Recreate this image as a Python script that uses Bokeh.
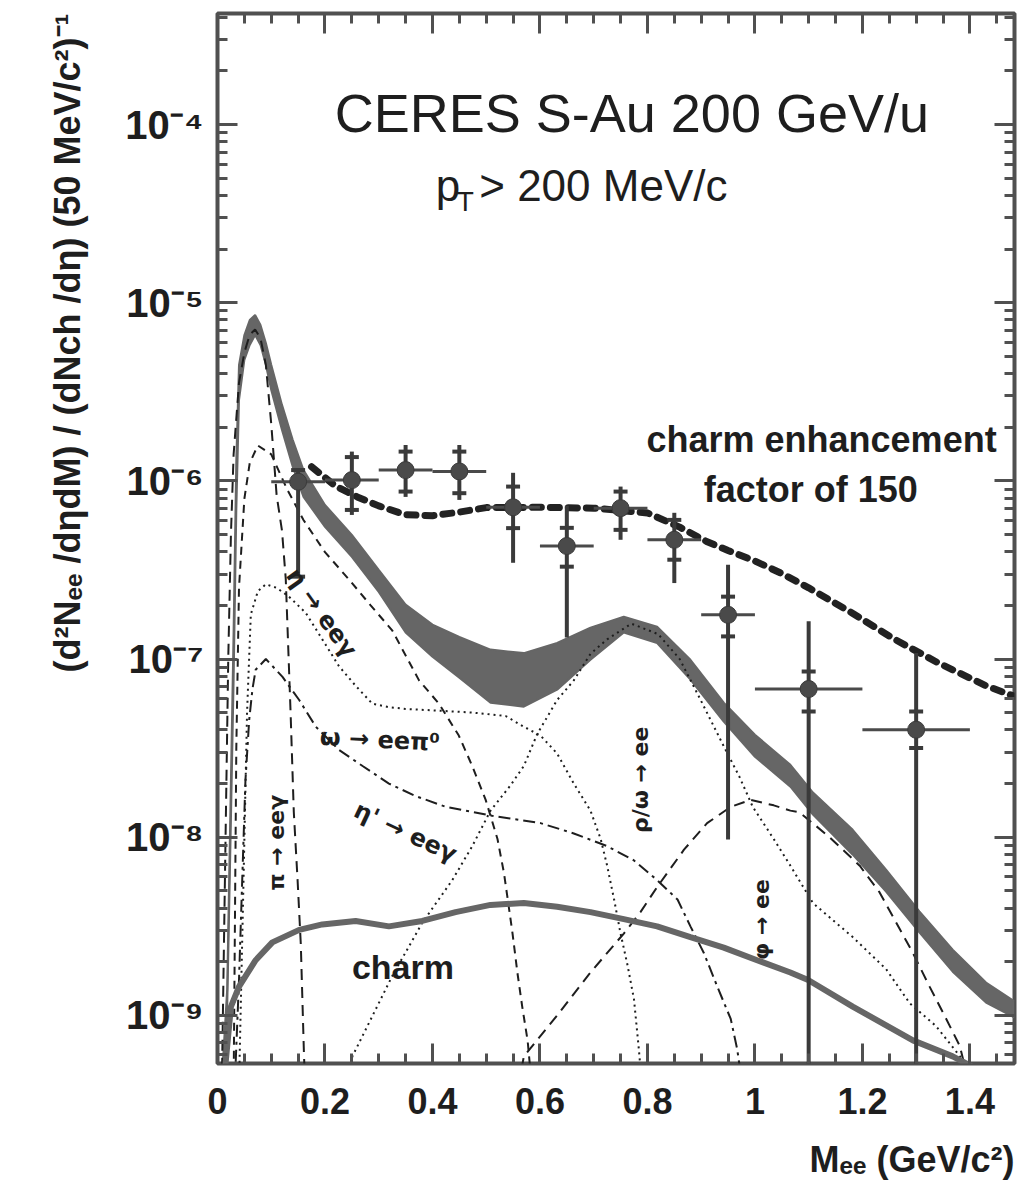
import numpy as np
from bokeh.plotting import figure
from bokeh.models import (Label, Title, LogAxis, LinearAxis, FixedTicker,
                          CustomJSTickFormatter, Range1d)
from bokeh.embed import file_html
from bokeh.resources import INLINE

FONT = "Liberation Sans"
SYMFONT = "DejaVu Sans"
INK = "#1e1e1e"

# ---------------- data ----------------
# total cocktail (grey band): mass, lower edge, upper edge
band_x = [0.005, 0.010, 0.018, 0.025, 0.030, 0.035, 0.040, 0.050, 0.060, 0.070, 0.080,
          0.090, 0.100, 0.120, 0.140, 0.160, 0.200, 0.250, 0.300, 0.350, 0.400, 0.450,
          0.508, 0.570, 0.632, 0.694, 0.756, 0.818, 0.880, 0.942, 1.000, 1.066, 1.108,
          1.182, 1.244, 1.306, 1.368, 1.430, 1.483]
band_lo = [3.0e-10, 5.0e-10, 1.08e-9, 1.26e-8, 7.66e-8, 6.87e-7, 2.84e-6, 4.78e-6, 5.79e-6,
           6.59e-6, 5.79e-6, 4.48e-6, 3.24e-6, 1.93e-6, 1.20e-6, 8.13e-7, 5.52e-7, 3.75e-7,
           2.38e-7, 1.41e-7, 1.03e-7, 7.85e-8, 5.69e-8, 5.40e-8, 6.73e-8, 9.91e-8, 1.41e-7,
           1.23e-7, 7.66e-8, 4.45e-8, 2.83e-8, 1.92e-8, 1.34e-8, 7.98e-9, 4.95e-9, 2.92e-9,
           1.76e-9, 1.18e-9, 9.73e-10]
band_hi = [3.0e-10, 5.45e-10, 1.40e-9, 2.10e-8, 1.46e-7, 1.31e-6, 4.48e-6, 6.59e-6, 8.00e-6,
           8.53e-6, 7.50e-6, 5.94e-6, 4.48e-6, 2.67e-6, 1.70e-6, 1.15e-6, 7.33e-7, 4.98e-7,
           3.17e-7, 2.02e-7, 1.56e-7, 1.33e-7, 1.13e-7, 1.08e-7, 1.23e-7, 1.50e-7, 1.73e-7,
           1.52e-7, 9.91e-8, 5.69e-8, 3.76e-8, 2.55e-8, 1.78e-8, 1.10e-8, 6.58e-9, 3.83e-9,
           2.34e-9, 1.53e-9, 1.20e-9]

# pi0 -> ee gamma
pi_x = [0.008, 0.015, 0.020, 0.025, 0.030, 0.040, 0.050, 0.060, 0.070, 0.080, 0.090,
        0.100, 0.110, 0.120, 0.127, 0.136, 0.142, 0.149, 0.155, 0.161, 0.166]
pi_y = [3.98e-10, 1.00e-8, 1.00e-7, 5.01e-7, 1.41e-6, 3.55e-6, 5.25e-6, 6.61e-6, 7.08e-6,
        6.31e-6, 4.47e-6, 2.09e-6, 8.32e-7, 5.25e-7, 2.82e-7, 5.01e-8, 1.38e-8, 5.75e-9,
        2.51e-9, 5.89e-10, 2.51e-10]

# eta -> ee gamma
eta_x = [0.030, 0.035, 0.040, 0.050, 0.060, 0.075, 0.100, 0.130, 0.160, 0.200, 0.245,
         0.285, 0.325, 0.375, 0.412, 0.449, 0.474, 0.499, 0.521, 0.533, 0.542, 0.549,
         0.558, 0.567, 0.577, 0.585]
eta_y = [3.98e-10, 3.16e-8, 2.51e-7, 7.94e-7, 1.26e-6, 1.58e-6, 1.41e-6, 8.91e-7, 6.03e-7,
         3.98e-7, 2.79e-7, 2.00e-7, 1.45e-7, 7.59e-8, 5.62e-8, 3.72e-8, 2.51e-8, 1.62e-8,
         9.77e-9, 6.31e-9, 4.07e-9, 2.88e-9, 1.74e-9, 1.12e-9, 7.24e-10, 3.98e-10]

# omega -> ee pi0
omd_x = [0.040, 0.048, 0.055, 0.062, 0.075, 0.090, 0.110, 0.133, 0.164, 0.195, 0.226,
         0.257, 0.288, 0.319, 0.350, 0.412, 0.474, 0.536, 0.570, 0.601, 0.632, 0.663,
         0.694, 0.713, 0.725, 0.738, 0.750, 0.763, 0.775, 0.784, 0.790]
omd_y = [3.98e-10, 5.01e-9, 5.01e-8, 1.78e-7, 2.40e-7, 2.63e-7, 2.51e-7, 2.24e-7, 1.82e-7,
         1.29e-7, 9.12e-8, 7.08e-8, 5.62e-8, 5.37e-8, 5.25e-8, 5.13e-8, 5.01e-8, 4.79e-8,
         4.17e-8, 3.72e-8, 2.95e-8, 2.00e-8, 1.41e-8, 9.77e-9, 6.92e-9, 4.47e-9, 2.88e-9,
         1.91e-9, 1.23e-9, 6.46e-10, 3.98e-10]

# eta' -> ee gamma
etp_x = [0.032, 0.040, 0.046, 0.052, 0.059, 0.065, 0.071, 0.090, 0.121, 0.152, 0.183,
         0.226, 0.270, 0.319, 0.369, 0.425, 0.511, 0.601, 0.663, 0.725, 0.775, 0.818,
         0.856, 0.880, 0.905, 0.930, 0.955, 0.967, 0.977]
etp_y = [3.98e-10, 1.58e-9, 5.75e-9, 2.09e-8, 4.57e-8, 6.76e-8, 8.71e-8, 1.00e-7, 7.94e-8,
         5.89e-8, 4.17e-8, 3.09e-8, 2.51e-8, 2.00e-8, 1.70e-8, 1.48e-8, 1.32e-8, 1.20e-8,
         1.05e-8, 8.91e-9, 7.41e-9, 5.75e-9, 4.47e-9, 3.16e-9, 2.24e-9, 1.45e-9, 9.55e-10,
         6.46e-10, 3.98e-10]

# rho/omega -> ee
rho_x = [0.240, 0.251, 0.325, 0.381, 0.437, 0.474, 0.508, 0.545, 0.570, 0.595, 0.632,
         0.663, 0.694, 0.725, 0.770, 0.820, 0.860, 0.899, 0.942, 0.971, 0.996, 1.035,
         1.066, 1.108, 1.182, 1.244, 1.288, 1.337, 1.400]
rho_y = [3.98e-10, 5.89e-10, 1.66e-9, 3.31e-9, 5.75e-9, 8.91e-9, 1.41e-8, 1.95e-8, 2.51e-8,
         3.80e-8, 5.89e-8, 7.59e-8, 1.07e-7, 1.29e-7, 1.58e-7, 1.38e-7, 1.00e-7, 5.89e-8,
         3.24e-8, 2.19e-8, 1.48e-8, 9.77e-9, 6.92e-9, 4.27e-9, 2.75e-9, 1.82e-9, 1.17e-9,
         8.71e-10, 5.01e-10]

# phi -> ee
phi_x = [0.560, 0.570, 0.632, 0.694, 0.756, 0.787, 0.818, 0.868, 0.911, 0.955, 0.992,
         1.035, 1.066, 1.083, 1.139, 1.195, 1.232, 1.263, 1.294, 1.325, 1.356, 1.381, 1.400]
phi_y = [3.98e-10, 5.89e-10, 1.00e-9, 1.74e-9, 2.88e-9, 3.80e-9, 5.25e-9, 8.51e-9, 1.20e-8,
         1.48e-8, 1.62e-8, 1.51e-8, 1.41e-8, 1.38e-8, 1.00e-8, 6.92e-9, 4.90e-9, 3.31e-9,
         2.24e-9, 1.45e-9, 9.55e-10, 6.76e-10, 3.98e-10]

# open charm
charm_x = [0.010, 0.015, 0.025, 0.040, 0.071, 0.102, 0.152, 0.195, 0.257, 0.319, 0.381,
           0.443, 0.508, 0.570, 0.632, 0.694, 0.756, 0.818, 0.880, 0.942, 1.004, 1.066,
           1.099, 1.182, 1.294, 1.368, 1.406, 1.483]
charm_y = [2.51e-10, 5.37e-10, 1.12e-9, 1.45e-9, 2.04e-9, 2.57e-9, 3.02e-9, 3.24e-9,
           3.39e-9, 3.16e-9, 3.39e-9, 3.80e-9, 4.17e-9, 4.27e-9, 4.07e-9, 3.80e-9, 3.47e-9,
           3.16e-9, 2.75e-9, 2.40e-9, 2.04e-9, 1.74e-9, 1.58e-9, 1.12e-9, 7.24e-10,
           5.89e-10, 5.13e-10, 3.55e-10]

# cocktail with charm enhanced by a factor 150
enh_x = [0.175, 0.220, 0.260, 0.300, 0.350, 0.400, 0.450, 0.500, 0.600, 0.700, 0.800,
         0.860, 0.910, 0.950, 1.000, 1.050, 1.100, 1.180, 1.260, 1.340, 1.430, 1.483]
enh_y = [1.20e-6, 9.33e-7, 8.13e-7, 7.24e-7, 6.46e-7, 6.38e-7, 6.68e-7, 7.08e-7, 7.11e-7,
         7.03e-7, 6.61e-7, 5.50e-7, 4.57e-7, 4.07e-7, 3.55e-7, 3.02e-7, 2.51e-7, 1.82e-7,
         1.29e-7, 9.55e-8, 7.08e-8, 6.17e-8]

# CERES data points
pt_x = [0.15, 0.25, 0.35, 0.45, 0.55, 0.65, 0.75, 0.85, 0.95, 1.10, 1.30]
pt_xerr = [0.05, 0.05, 0.05, 0.05, 0.05, 0.05, 0.05, 0.05, 0.05, 0.10, 0.10]
pt_y = [9.89e-7, 1.01e-6, 1.15e-6, 1.13e-6, 7.11e-7, 4.31e-7, 7.03e-7, 4.67e-7, 1.77e-7,
        6.79e-8, 4.01e-8]
stat_hi = [1.17e-6, 1.46e-6, 1.59e-6, 1.59e-6, 1.11e-6, 7.24e-7, 9.29e-7, 6.62e-7, 3.38e-7,
           1.63e-7, 1.08e-7]
stat_lo = [2.90e-7, 6.44e-7, 8.13e-7, 7.82e-7, 3.47e-7, 1.32e-7, 4.67e-7, 2.67e-7, 9.70e-9,
           1.0e-10, 1.0e-10]
sys_hi = [1.15e-6, 1.36e-6, 1.46e-6, 1.46e-6, 9.29e-7, 5.45e-7, 8.71e-7, 6.04e-7, 2.24e-7,
          8.51e-8, 5.08e-8]
sys_lo = [2.90e-7, 6.87e-7, 8.71e-7, 8.53e-7, 5.43e-7, 3.30e-7, 5.31e-7, 3.61e-7, 1.34e-7,
          5.08e-8, 3.17e-8]

# axes
x_tick_values = [0.0, 0.2, 0.4, 0.6, 0.8, 1.0, 1.2, 1.4]
x_tick_labels = ["0", "0.2", "0.4", "0.6", "0.8", "1", "1.2", "1.4"]
y_tick_values = [1e-9, 1e-8, 1e-7, 1e-6, 1e-5, 1e-4]
y_tick_labels = ["10\u207b\u2079", "10\u207b\u2078", "10\u207b\u2077",
                 "10\u207b\u2076", "10\u207b\u2075", "10\u207b\u2074"]

# ---------------- figure ----------------
p = figure(width=1019, height=1203, y_axis_type="log",
           x_range=Range1d(0, 1.483), y_range=Range1d(5.37e-10, 4.2e-4),
           output_backend="svg", toolbar_location=None,
           min_border_left=217, min_border_right=5, min_border_top=13,
           min_border_bottom=140)
p.background_fill_color = "white"
p.border_fill_color = "white"
p.grid.visible = False
p.outline_line_color = "#505050"
p.outline_line_width = 4

x_minor = list(np.round(np.arange(0, 1.5, 0.05), 3))
y_minor = [m * 10.0 ** e for e in range(-10, -3) for m in range(2, 10)]
xt = FixedTicker(ticks=x_tick_values, minor_ticks=x_minor)
yt = FixedTicker(ticks=y_tick_values, minor_ticks=y_minor)

xfmt = CustomJSTickFormatter(args=dict(vals=x_tick_values, labs=x_tick_labels), code="""
const i = vals.findIndex(v => Math.abs(v - tick) < 1e-6);
return i >= 0 ? labs[i] : '';
""")
yfmt = CustomJSTickFormatter(args=dict(vals=y_tick_values, labs=y_tick_labels), code="""
const i = vals.findIndex(v => Math.abs(Math.log10(v) - Math.log10(tick)) < 1e-6);
return i >= 0 ? labs[i] : '';
""")
blank = CustomJSTickFormatter(code="return '';")


def style_axis(ax, size="36px"):
    ax.axis_line_color = None
    ax.major_tick_in = 20
    ax.major_tick_out = 0
    ax.minor_tick_in = 10
    ax.minor_tick_out = 0
    ax.major_tick_line_width = 3
    ax.minor_tick_line_width = 3
    ax.major_tick_line_color = "#505050"
    ax.minor_tick_line_color = "#505050"
    ax.major_label_text_font = FONT
    ax.major_label_text_font_size = size
    ax.major_label_text_font_style = "bold"
    ax.major_label_text_color = INK


p.xaxis.ticker = xt
p.xaxis.formatter = xfmt
p.yaxis.ticker = yt
p.yaxis.formatter = yfmt
style_axis(p.xaxis[0], "36px")
style_axis(p.yaxis[0], "40px")
p.xaxis.major_label_standoff = 24
p.yaxis.major_label_standoff = 14

top_ax = LinearAxis(ticker=xt, formatter=blank, major_label_standoff=0)
right_ax = LogAxis(ticker=yt, formatter=blank, major_label_standoff=0)
style_axis(top_ax)
style_axis(right_ax)
p.add_layout(top_ax, "above")
p.add_layout(right_ax, "right")

p.add_layout(Title(text="(d\u00b2N\u2091\u2091 /d\u03b7dM) / (dNch /d\u03b7) (50 MeV/c\u00b2)\u207b\u00b9",
                   align="right", text_font=FONT, text_font_size="36px",
                   text_font_style="bold", text_color=INK, standoff=70), "left")
p.add_layout(Title(text="M\u2091\u2091 (GeV/c\u00b2)", align="right", text_font=FONT,
                   text_font_size="36px", text_font_style="bold", text_color=INK,
                   standoff=40), "below")

# ---------------- glyphs ----------------
p.varea(x=band_x, y1=band_lo, y2=band_hi, fill_color="#666666")
p.line(band_x, band_lo, line_color="#666666", line_width=2)
p.line(band_x, band_hi, line_color="#666666", line_width=2)

p.line(pi_x, pi_y, line_color=INK, line_width=2, line_dash="11 7")
p.line(eta_x, eta_y, line_color=INK, line_width=2, line_dash="8 6")
p.line(omd_x, omd_y, line_color=INK, line_width=2, line_dash="2 4")
p.line(etp_x, etp_y, line_color=INK, line_width=2, line_dash="12 5 3 5")
p.line(rho_x, rho_y, line_color=INK, line_width=2, line_dash="2 4")
p.line(phi_x, phi_y, line_color=INK, line_width=2, line_dash="11 7")
p.line(charm_x, charm_y, line_color="#666666", line_width=6)
p.line(enh_x, enh_y, line_color="#222222", line_width=7, line_dash="9 9",
       line_cap="round")

# data points
px = np.array(pt_x)
pxe = np.array(pt_xerr)
p.segment(x0=px - pxe, y0=pt_y, x1=px + pxe, y1=pt_y, line_color="#4a4a4a", line_width=3)
p.segment(x0=px, y0=stat_lo, x1=px, y1=stat_hi, line_color="#3a3a3a", line_width=4)
p.segment(x0=px - 0.013, y0=sys_hi, x1=px + 0.013, y1=sys_hi, line_color="#3a3a3a", line_width=4)
p.segment(x0=px - 0.013, y0=sys_lo, x1=px + 0.013, y1=sys_lo, line_color="#3a3a3a", line_width=4)
p.scatter(pt_x, pt_y, marker="circle", size=17, fill_color="#4a4a4a", line_color="#3a3a3a")

# ---------------- annotations ----------------
def lab(x, y, text, size, bold=True, angle=0.0, align="center", font=FONT):
    p.add_layout(Label(x=x, y=y, text=text, text_font=font, text_font_size=size,
                       text_font_style="bold" if bold else "normal", text_color=INK,
                       text_align=align, text_baseline="middle", angle=angle))


lab(0.771, 1.16e-4, "CERES S-Au 200 GeV/u", "54px", bold=False)
lab(0.406, 4.57e-5, "p", "44px", bold=False, align="left")
lab(0.445, 3.70e-5, "T", "28px", bold=False, align="left")
lab(0.487, 4.57e-5, "> 200 MeV/c", "44px", bold=False, align="left")
lab(1.124, 1.70e-6, "charm enhancement", "36px")
lab(1.104, 8.91e-7, "factor of 150", "36px")
lab(0.345, 1.86e-9, "charm", "34px")
lab(0.302, 3.52e-8, "\u03c9 \u2192 ee\u03c0\u2070", "24px", angle=-0.05, font=SYMFONT)
lab(0.350, 1.07e-8, "\u03b7' \u2192 ee\u03b3", "24px", angle=-0.44, font=SYMFONT)
lab(0.194, 1.82e-7, "\u03b7 \u2192 ee\u03b3", "24px", angle=-0.95, font=SYMFONT)
lab(0.110, 9.3e-9, "\u03c0 \u2192 ee\u03b3", "22px", angle=np.pi / 2, font=SYMFONT)
lab(0.787, 2.10e-8, "\u03c1/\u03c9 \u2192 ee", "22px", angle=np.pi / 2, font=SYMFONT)
lab(1.012, 3.45e-9, "\u03c6 \u2192 ee", "22px", angle=np.pi / 2, font=SYMFONT)

open("out.html", "w").write(file_html(p, INLINE))
